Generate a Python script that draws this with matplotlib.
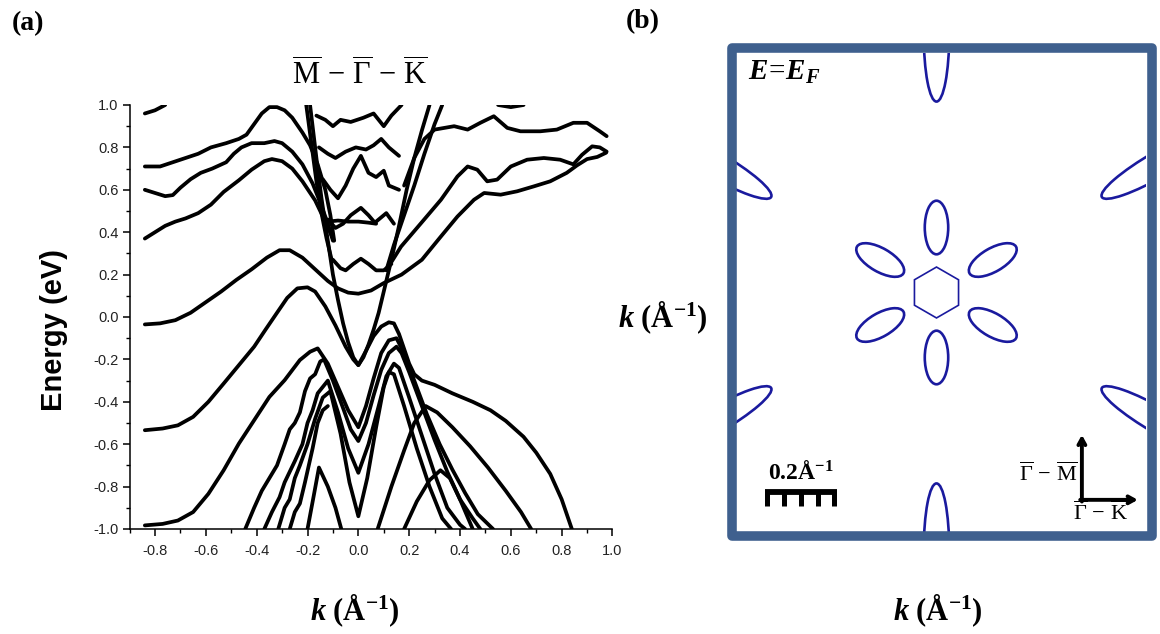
import matplotlib
matplotlib.use("Agg")
import matplotlib.pyplot as plt
from matplotlib.patches import Ellipse, RegularPolygon, Rectangle
import numpy as np

plt.rcParams["mathtext.fontset"] = "custom"
plt.rcParams["mathtext.rm"] = "Liberation Serif"
plt.rcParams["mathtext.it"] = "Liberation Serif:italic"
plt.rcParams["mathtext.bf"] = "Liberation Serif:bold"
plt.rcParams["mathtext.bfit"] = "Liberation Serif:bold:italic"
plt.rcParams["axes.unicode_minus"] = False

# ---------------- (a) band structure along M - Gamma - K ----------------
# upper bands on the M side
band_a_k = [-0.84, -0.80, -0.76]
band_a_E = [0.96, 0.975, 1.0]
band_b_k = [-0.84, -0.78, -0.73, -0.68, -0.63, -0.58, -0.52, -0.47, -0.44, -0.41, -0.38,
            -0.35, -0.32, -0.29, -0.26, -0.22, -0.19, -0.16, -0.13, -0.11, -0.095]
band_b_E = [0.71, 0.71, 0.73, 0.75, 0.77, 0.80, 0.82, 0.84, 0.86, 0.91, 0.96,
            0.99, 0.99, 0.975, 0.94, 0.87, 0.81, 0.72, 0.60, 0.48, 0.36]
band_c_k = [-0.84, -0.80, -0.76, -0.73, -0.70, -0.66, -0.62, -0.575, -0.52, -0.49, -0.46,
            -0.42, -0.37, -0.33, -0.30, -0.26, -0.22, -0.18, -0.15, -0.12, -0.10]
band_c_E = [0.60, 0.585, 0.57, 0.575, 0.61, 0.65, 0.68, 0.70, 0.73, 0.77, 0.80,
            0.82, 0.82, 0.83, 0.82, 0.78, 0.72, 0.63, 0.54, 0.44, 0.36]
band_d_k = [-0.84, -0.80, -0.76, -0.72, -0.68, -0.63, -0.58, -0.53, -0.47, -0.42, -0.37,
            -0.34, -0.30, -0.26, -0.22, -0.17, -0.13, -0.10]
band_d_E = [0.37, 0.40, 0.43, 0.45, 0.465, 0.49, 0.53, 0.59, 0.645, 0.695, 0.735,
            0.745, 0.735, 0.70, 0.64, 0.55, 0.45, 0.37]
band_e_k = [-0.84, -0.78, -0.72, -0.66, -0.60, -0.54, -0.48, -0.42, -0.36, -0.31, -0.27,
            -0.22, -0.17, -0.12, -0.08, -0.04, 0.0, 0.05, 0.10, 0.17, 0.25, 0.325, 0.39,
            0.455, 0.495, 0.56, 0.625, 0.69, 0.755, 0.82, 0.86, 0.90, 0.94, 0.975]
band_e_E = [-0.035, -0.03, -0.015, 0.02, 0.07, 0.12, 0.175, 0.225, 0.28, 0.315, 0.315,
            0.28, 0.225, 0.17, 0.135, 0.115, 0.11, 0.125, 0.16, 0.20, 0.27, 0.38, 0.474,
            0.553, 0.585, 0.577, 0.593, 0.616, 0.64, 0.68, 0.715, 0.745, 0.755, 0.775]

# Dirac-like cone around Gamma
cone_k = [-0.19, -0.175, -0.16, -0.145, -0.13, -0.115, -0.10, -0.08, -0.06, -0.04, -0.02, 0.0,
          0.02, 0.04, 0.06, 0.08, 0.10, 0.13, 0.16, 0.19, 0.22, 0.25, 0.28]
cone_E = [1.0, 0.85, 0.70, 0.56, 0.44, 0.32, 0.20, 0.08, -0.03, -0.12, -0.19, -0.227,
          -0.19, -0.13, -0.06, 0.02, 0.12, 0.27, 0.43, 0.60, 0.75, 0.88, 1.0]
cone2_k = [-0.205, -0.185, -0.165, -0.145, -0.125, -0.105]
cone2_E = [1.0, 0.82, 0.64, 0.49, 0.37, 0.27]
cone3_k = [0.11, 0.14, 0.18, 0.22, 0.26, 0.30, 0.33]
cone3_E = [0.22, 0.34, 0.48, 0.62, 0.77, 0.91, 1.0]

# sub-bands inside the cone
sub1_k = [-0.10, -0.07, -0.05, -0.02, 0.01, 0.04, 0.07, 0.10, 0.13]
sub1_E = [0.27, 0.23, 0.22, 0.25, 0.275, 0.25, 0.22, 0.22, 0.25]
sub2_k = [-0.12, -0.08, -0.04, 0.0, 0.04, 0.07]
sub2_E = [0.45, 0.455, 0.45, 0.45, 0.445, 0.44]
sub3_k = [-0.12, -0.09, -0.06, -0.03, 0.01, 0.04, 0.065, 0.09, 0.11, 0.14]
sub3_E = [0.46, 0.42, 0.44, 0.48, 0.515, 0.48, 0.445, 0.47, 0.49, 0.44]
sub4_k = [-0.14, -0.11, -0.08, -0.05, -0.02, 0.01, 0.04, 0.07, 0.10, 0.12, 0.16]
sub4_E = [0.65, 0.60, 0.56, 0.62, 0.70, 0.76, 0.68, 0.66, 0.69, 0.62, 0.60]
sub5_k = [-0.155, -0.12, -0.09, -0.05, -0.01, 0.03, 0.06, 0.09, 0.12, 0.16]
sub5_E = [0.80, 0.77, 0.75, 0.78, 0.80, 0.79, 0.81, 0.84, 0.80, 0.76]
sub6_k = [-0.165, -0.13, -0.10, -0.07, -0.03, 0.02, 0.06, 0.10, 0.13, 0.17]
sub6_E = [0.95, 0.93, 0.90, 0.93, 0.92, 0.94, 0.96, 0.90, 0.95, 1.0]

# upper bands on the K side
k_top_k = [0.18, 0.22, 0.26, 0.30, 0.377, 0.43, 0.48, 0.533, 0.586, 0.638, 0.716, 0.781,
           0.846, 0.90, 0.95, 0.977]
k_top_E = [0.62, 0.75, 0.84, 0.884, 0.90, 0.884, 0.916, 0.947, 0.892, 0.876, 0.876, 0.884,
           0.916, 0.916, 0.876, 0.853]
k_mid_k = [0.12, 0.168, 0.247, 0.325, 0.39, 0.43, 0.468, 0.507, 0.546, 0.60, 0.664, 0.73,
           0.794, 0.846, 0.88, 0.92, 0.95, 0.977]
k_mid_E = [0.24, 0.332, 0.443, 0.553, 0.663, 0.71, 0.695, 0.64, 0.648, 0.71, 0.742, 0.75,
           0.742, 0.72, 0.765, 0.805, 0.80, 0.78]
k_dash_k = [0.55, 0.60, 0.65]
k_dash_E = [1.0, 0.99, 1.0]

# valence bands
vb1_k = [-0.84, -0.77, -0.71, -0.65, -0.59, -0.53, -0.47, -0.41, -0.366, -0.32, -0.28, -0.24,
         -0.20, -0.17, -0.13, -0.09, -0.05, -0.02, 0.0, 0.03, 0.06, 0.09, 0.12, 0.14, 0.16,
         0.18, 0.20, 0.22, 0.25, 0.30, 0.37, 0.45, 0.52, 0.58, 0.65, 0.70, 0.755, 0.80, 0.84]
vb1_E = [-0.534, -0.526, -0.511, -0.471, -0.40, -0.314, -0.227, -0.14, -0.061, 0.02, 0.09,
         0.135, 0.14, 0.12, 0.05, -0.04, -0.14, -0.20, -0.227, -0.16, -0.09, -0.045, -0.025,
         -0.03, -0.08, -0.15, -0.22, -0.27, -0.30, -0.32, -0.36, -0.40, -0.44, -0.49, -0.565,
         -0.64, -0.74, -0.86, -1.0]
vb2_k = [-0.84, -0.77, -0.71, -0.65, -0.59, -0.53, -0.47, -0.41, -0.35, -0.29, -0.23, -0.19,
         -0.16, -0.12, -0.08, -0.04, 0.0, 0.03, 0.06, 0.09, 0.12, 0.15, 0.18, 0.22, 0.27,
         0.32, 0.37, 0.42, 0.47, 0.53]
vb2_E = [-0.983, -0.976, -0.96, -0.92, -0.834, -0.723, -0.597, -0.487, -0.377, -0.298,
         -0.203, -0.164, -0.148, -0.22, -0.33, -0.44, -0.52, -0.42, -0.29, -0.17, -0.11,
         -0.10, -0.17, -0.30, -0.46, -0.60, -0.72, -0.83, -0.93, -1.0]
vb3_k = [-0.445, -0.41, -0.38, -0.35, -0.32, -0.29, -0.27, -0.25, -0.23, -0.21, -0.19, -0.17,
         -0.15, -0.135, -0.10, -0.06, -0.03, 0.0, 0.03, 0.06, 0.09, 0.12, 0.15, 0.17, 0.20,
         0.25, 0.30, 0.35, 0.40, 0.45, 0.48]
vb3_E = [-1.0, -0.90, -0.82, -0.76, -0.70, -0.60, -0.53, -0.50, -0.45, -0.35, -0.29, -0.27,
         -0.21, -0.20, -0.30, -0.43, -0.53, -0.585, -0.50, -0.37, -0.25, -0.17, -0.14, -0.17,
         -0.26, -0.42, -0.58, -0.73, -0.86, -0.95, -1.0]
vb4_k = [-0.37, -0.34, -0.31, -0.29, -0.27, -0.25, -0.22, -0.20, -0.18, -0.16, -0.14, -0.12,
         -0.08, -0.04, 0.0, 0.04, 0.08, 0.11, 0.14, 0.16, 0.20, 0.25, 0.30, 0.35, 0.40, 0.42]
vb4_E = [-1.0, -0.92, -0.85, -0.78, -0.73, -0.68, -0.60, -0.50, -0.44, -0.36, -0.33, -0.30,
         -0.45, -0.62, -0.735, -0.60, -0.42, -0.28, -0.22, -0.24, -0.38, -0.56, -0.74, -0.90,
         -0.98, -1.0]
vb5_k = [-0.315, -0.29, -0.27, -0.25, -0.23, -0.20, -0.17, -0.14, -0.11, -0.07, -0.035, 0.0,
         0.035, 0.07, 0.10, 0.12, 0.14, 0.18, 0.23, 0.28, 0.33, 0.365]
vb5_E = [-1.0, -0.90, -0.86, -0.76, -0.70, -0.60, -0.48, -0.38, -0.35, -0.55, -0.78, -0.94,
         -0.76, -0.52, -0.33, -0.26, -0.27, -0.42, -0.62, -0.80, -0.95, -1.0]
vb6_k = [-0.27, -0.25, -0.23, -0.21, -0.18, -0.16, -0.14, -0.12]
vb6_E = [-1.0, -0.92, -0.88, -0.78, -0.62, -0.50, -0.44, -0.42]
vb7_k = [-0.20, -0.175, -0.155, -0.12, -0.09, -0.067]
vb7_E = [-1.0, -0.84, -0.71, -0.80, -0.90, -1.0]
vb8_k = [0.076, 0.13, 0.18, 0.22, 0.265, 0.31, 0.37, 0.44, 0.51, 0.58, 0.64, 0.68]
vb8_E = [-1.0, -0.80, -0.63, -0.50, -0.42, -0.45, -0.52, -0.61, -0.71, -0.82, -0.92, -1.0]
vb9_k = [0.18, 0.23, 0.28, 0.323, 0.36, 0.40, 0.45]
vb9_E = [-1.0, -0.87, -0.77, -0.723, -0.76, -0.86, -1.0]

bands = [(band_a_k, band_a_E), (band_b_k, band_b_E), (band_c_k, band_c_E),
         (band_d_k, band_d_E), (band_e_k, band_e_E), (cone_k, cone_E),
         (cone2_k, cone2_E), (cone3_k, cone3_E), (sub1_k, sub1_E), (sub2_k, sub2_E),
         (sub3_k, sub3_E), (sub4_k, sub4_E), (sub5_k, sub5_E), (sub6_k, sub6_E),
         (k_top_k, k_top_E), (k_mid_k, k_mid_E), (k_dash_k, k_dash_E),
         (vb1_k, vb1_E), (vb2_k, vb2_E), (vb3_k, vb3_E), (vb4_k, vb4_E), (vb5_k, vb5_E),
         (vb6_k, vb6_E), (vb7_k, vb7_E), (vb8_k, vb8_E), (vb9_k, vb9_E)]

x_ticks = [-0.8, -0.6, -0.4, -0.2, 0.0, 0.2, 0.4, 0.6, 0.8, 1.0]
y_ticks = [-1.0, -0.8, -0.6, -0.4, -0.2, 0.0, 0.2, 0.4, 0.6, 0.8, 1.0]

# ---------------- (b) Fermi surface at E = E_F (in 1/Angstrom) ----------------
hexagon_radius = 0.076
inner_pocket_dist = 0.194
inner_pocket_len = 0.160
inner_pocket_wid = 0.070
outer_pocket_dist = 0.77
outer_pocket_len = 0.40
outer_pocket_wid = 0.076
pocket_angles = [90, 30, -30, -90, -150, 150]
scale_bar_len = 0.2
scale_bar_step = 0.05

fig = plt.figure(figsize=(11.6, 6.34), dpi=100)
W, H = 1160.0, 634.0

ax = fig.add_axes([129.6 / W, 1 - 529 / H, (612.5 - 129.6) / W, (529 - 105) / H])
for k, e in bands:
    ax.plot(k, e, color="black", lw=2.7, solid_joinstyle="round", solid_capstyle="round",
            clip_on=True)
ax.set_xlim(-0.89, 1.0)
ax.set_ylim(-1.0, 1.0)
ax.set_xticks(x_ticks)
ax.set_yticks(y_ticks)
ax.set_xticks(np.round(np.arange(-0.9, 1.001, 0.1), 2), minor=True)
ax.set_yticks(np.round(np.arange(-0.9, 0.91, 0.2), 2), minor=True)
ax.set_xticklabels([f"{v:.1f}" for v in x_ticks])
ax.set_yticklabels([f"{v:.1f}" for v in y_ticks])
for side in ("top", "right"):
    ax.spines[side].set_visible(False)
for side in ("left", "bottom"):
    ax.spines[side].set_linewidth(1.1)
ax.tick_params(which="major", direction="out", length=5, width=1.1, labelsize=10.5, pad=3,
               colors="black", labelcolor="#222222")
ax.tick_params(which="minor", direction="out", length=3, width=1.0)
for lab in ax.get_xticklabels() + ax.get_yticklabels():
    lab.set_fontfamily("Liberation Sans")
ax.tick_params(axis="x", pad=6)

fig.text(28 / W, 1 - 24 / H, "(a)", fontsize=20, fontweight="bold",
         family="Liberation Serif", ha="center", va="center")
fig.text(643 / W, 1 - 22 / H, "(b)", fontsize=20, fontweight="bold",
         family="Liberation Serif", ha="center", va="center")
fig.text(360 / W, 1 - 74 / H,
         r"$\overline{\mathrm{M}}\,-\,\overline{\mathrm{\Gamma}}\,-\,\overline{\mathrm{K}}$",
         fontsize=22, ha="center", va="center")
fig.text(54 / W, 1 - 330 / H, "Energy (eV)", rotation=90, fontsize=21, fontweight="bold",
         family="Liberation Sans", ha="center", va="center")
k_label = r"$\mathbfit{k}\ \mathbf{(\AA^{-1})}$"
fig.text(355 / W, 1 - 611 / H, k_label, fontsize=22, ha="center", va="center")
fig.text(938 / W, 1 - 611 / H, k_label, fontsize=22, ha="center", va="center")
fig.text(663 / W, 1 - 318 / H, k_label, fontsize=22, ha="center", va="center")

# panel (b)
pocket_color = "#1a1a9e"
axb = fig.add_axes([736 / W, 1 - 532 / H, 410 / W, 479 / H])
axb.set_xlim(-0.5985, 0.6254)
axb.set_ylim(-0.715, 0.715)
axb.axis("off")
axb.add_patch(RegularPolygon((0, 0), numVertices=6, radius=hexagon_radius, fill=False,
                             ec=pocket_color, lw=1.2))
for ang in pocket_angles:
    t = np.deg2rad(ang)
    axb.add_patch(Ellipse((inner_pocket_dist * np.cos(t), inner_pocket_dist * np.sin(t)),
                          inner_pocket_len, inner_pocket_wid, angle=ang, fill=False,
                          ec=pocket_color, lw=1.9))
    axb.add_patch(Ellipse((outer_pocket_dist * np.cos(t), outer_pocket_dist * np.sin(t)),
                          outer_pocket_len, outer_pocket_wid, angle=ang, fill=False,
                          ec=pocket_color, lw=1.9))

# scale bar
bar_x0, bar_y = -0.505, -0.596
axb.plot([bar_x0 - 0.007, bar_x0 + scale_bar_len + 0.007], [bar_y, bar_y], color="black",
         lw=4.2, solid_capstyle="butt")
for i in range(int(round(scale_bar_len / scale_bar_step)) + 1):
    xx = bar_x0 + i * scale_bar_step
    axb.plot([xx, xx], [bar_y, bar_y - 0.04], color="black", lw=3.6, solid_capstyle="butt")
axb.text(bar_x0 + scale_bar_len / 2, -0.535, r"$\mathbf{0.2\AA^{-1}}$", fontsize=17,
         ha="center", va="center")

# direction arrows
corner = (0.434, -0.619)
arrow_style = "->,head_length=0.45,head_width=0.25"
axb.annotate("", xy=(corner[0], -0.425), xytext=(corner[0], corner[1] - 0.005),
             arrowprops=dict(arrowstyle=arrow_style, lw=2.8, color="black",
                             shrinkA=0, shrinkB=0))
axb.annotate("", xy=(0.601, corner[1]), xytext=(corner[0] - 0.005, corner[1]),
             arrowprops=dict(arrowstyle=arrow_style, lw=2.8, color="black",
                             shrinkA=0, shrinkB=0))
axb.text(0.422, -0.539, r"$\overline{\mathrm{\Gamma}}\,-\,\overline{\mathrm{M}}$", fontsize=16,
         ha="right", va="center")
axb.text(0.49, -0.657, r"$\overline{\mathrm{\Gamma}}\,-\,\overline{\mathrm{K}}$", fontsize=16,
         ha="center", va="center")
axb.text(-0.563, 0.634, r"$\mathbfit{E}\!=\!\mathbfit{E}_{\mathbfit{F}}$", fontsize=21,
         ha="left", va="baseline")

frame_color = "#3f608e"
fig.add_artist(Rectangle((731.5 / W, 1 - 536 / H), 420 / W, 488.5 / H,
                         transform=fig.transFigure, fill=False, lw=6.9, ec=frame_color,
                         joinstyle="round"))

fig.savefig("out.png", dpi=100)
